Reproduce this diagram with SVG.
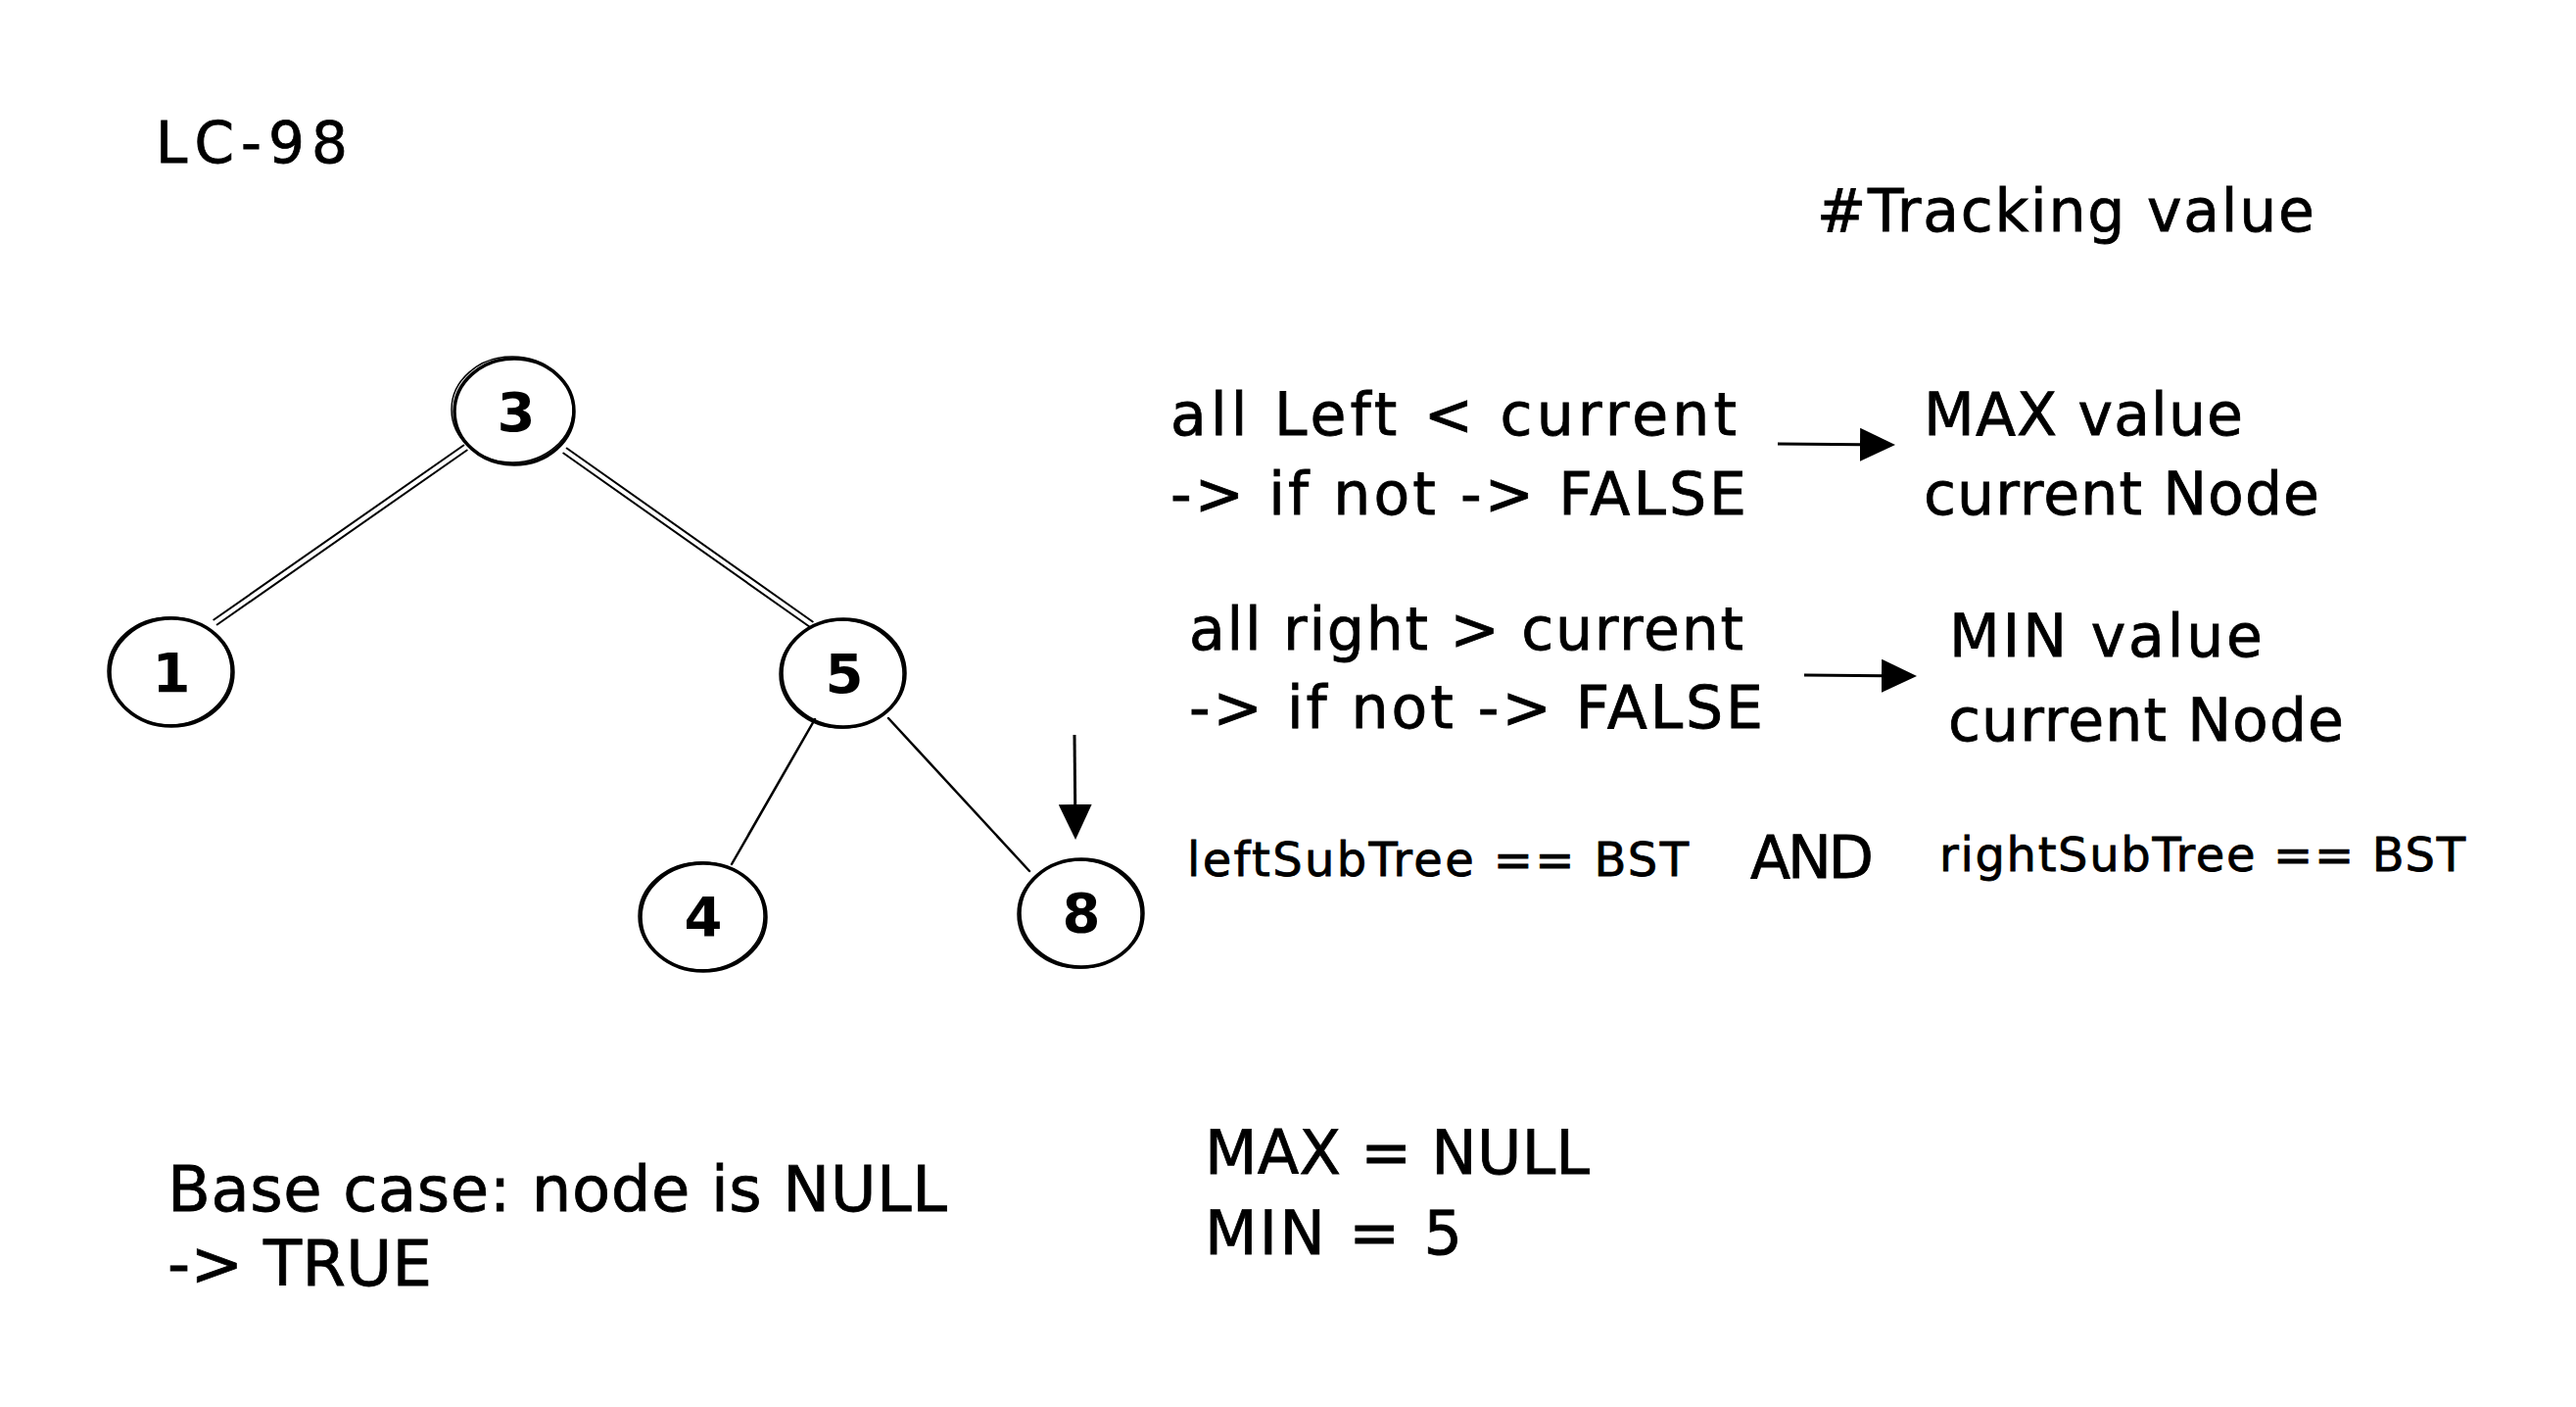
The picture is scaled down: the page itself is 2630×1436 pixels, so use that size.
<svg xmlns="http://www.w3.org/2000/svg" width="2630" height="1436" viewBox="0 0 2630 1436">
<style>
  .t { font-family: "DejaVu Sans", "Liberation Sans", sans-serif; fill: #000; stroke: #000; stroke-width: 0.8; }
  .n { fill: none; stroke: #000; stroke-width: 3.5; }
  .n2 { fill: none; stroke: #000; stroke-width: 1.5; }
  .e { fill: none; stroke: #000; stroke-width: 2.5; stroke-linecap: round; }
  .e1 { fill: none; stroke: #000; stroke-width: 2; stroke-linecap: round; }
  .a { fill: none; stroke: #000; stroke-width: 3; }
  .lbl { font-family: "DejaVu Sans", "Liberation Sans", sans-serif; font-size: 56px; font-weight: bold; fill: #000; text-anchor: middle; }
</style>
<defs>
  <marker id="ah" viewBox="0 0 36 34" refX="30" refY="17" markerWidth="36" markerHeight="34" markerUnits="userSpaceOnUse" orient="auto">
    <path d="M0,0 L36,17 L0,34 Z" fill="#000"/>
  </marker>
</defs>
<rect width="2630" height="1436" fill="#fff"/>

<g id="connectors">
  <line class="e1" x1="476.7" y1="459.5" x2="221.7" y2="637.5"/>
  <line class="e1" x1="473.3" y1="454.5" x2="218.3" y2="632.5"/>
  <line class="e1" x1="575.3" y1="462.5" x2="826.3" y2="639.5"/>
  <line class="e1" x1="578.7" y1="457.5" x2="829.7" y2="634.5"/>
  <line class="e" x1="832" y1="734" x2="747" y2="882"/>
  <line class="e" x1="907" y1="733" x2="1051" y2="889"/>
  <line class="a" x1="1097" y1="750" x2="1098" y2="851" marker-end="url(#ah)"/>
  <line class="a" x1="1815" y1="453" x2="1929" y2="454" marker-end="url(#ah)"/>
  <line class="a" x1="1842" y1="689" x2="1951" y2="690" marker-end="url(#ah)"/>
</g>

<g id="node-3">
  <ellipse class="n" cx="525" cy="420" rx="61" ry="54"/>
  <ellipse class="n2" cx="523" cy="418" rx="62" ry="54"/>
  <text class="lbl" x="527" y="440">3</text>
</g>
<g id="node-1">
  <ellipse class="n" cx="175" cy="686" rx="63" ry="55"/>
  <ellipse class="n2" cx="173" cy="685" rx="63" ry="55"/>
  <text class="lbl" x="175" y="706">1</text>
</g>
<g id="node-5">
  <ellipse class="n" cx="861" cy="687" rx="63" ry="55"/>
  <ellipse class="n2" cx="859" cy="688" rx="63" ry="55"/>
  <text class="lbl" x="862" y="707">5</text>
</g>
<g id="node-4">
  <ellipse class="n" cx="718" cy="936" rx="64" ry="55"/>
  <ellipse class="n2" cx="716" cy="935" rx="64" ry="55"/>
  <text class="lbl" x="718" y="955">4</text>
</g>
<g id="node-8">
  <ellipse class="n" cx="1104" cy="932" rx="63" ry="55"/>
  <ellipse class="n2" cx="1102" cy="933" rx="63" ry="55"/>
  <text class="lbl" x="1104" y="951">8</text>
</g>

<g id="texts">
  <text class="t" x="159" y="166" font-size="58" textLength="196">LC-98</text>
  <text class="t" x="1855" y="236" font-size="60" textLength="508">#Tracking value</text>
  <text class="t" x="1195" y="444" font-size="60" textLength="578">all Left &lt; current</text>
  <text class="t" x="1195" y="525" font-size="60" textLength="588">-&gt; if not -&gt; FALSE</text>
  <text class="t" x="1964" y="444" font-size="60" textLength="326">MAX value</text>
  <text class="t" x="1964" y="525" font-size="60" textLength="404">current Node</text>
  <text class="t" x="1214" y="663" font-size="60" textLength="566">all right &gt; current</text>
  <text class="t" x="1214" y="743" font-size="60" textLength="586">-&gt; if not -&gt; FALSE</text>
  <text class="t" x="1990" y="670" font-size="60" textLength="320">MIN value</text>
  <text class="t" x="1989" y="756" font-size="60" textLength="404">current Node</text>
  <text class="t" x="1212" y="894" font-size="48" textLength="512">leftSubTree == BST</text>
  <text class="t" x="1787" y="896" font-size="60" textLength="126">AND</text>
  <text class="t" x="1980" y="889" font-size="48" textLength="537">rightSubTree == BST</text>
  <text class="t" x="1230" y="1198" font-size="62" textLength="393">MAX = NULL</text>
  <text class="t" x="1230" y="1280" font-size="62" textLength="263">MIN = 5</text>
  <text class="t" x="171" y="1236" font-size="64" textLength="796">Base case: node is NULL</text>
  <text class="t" x="171" y="1312" font-size="64" textLength="270">-&gt; TRUE</text>
</g>
</svg>
